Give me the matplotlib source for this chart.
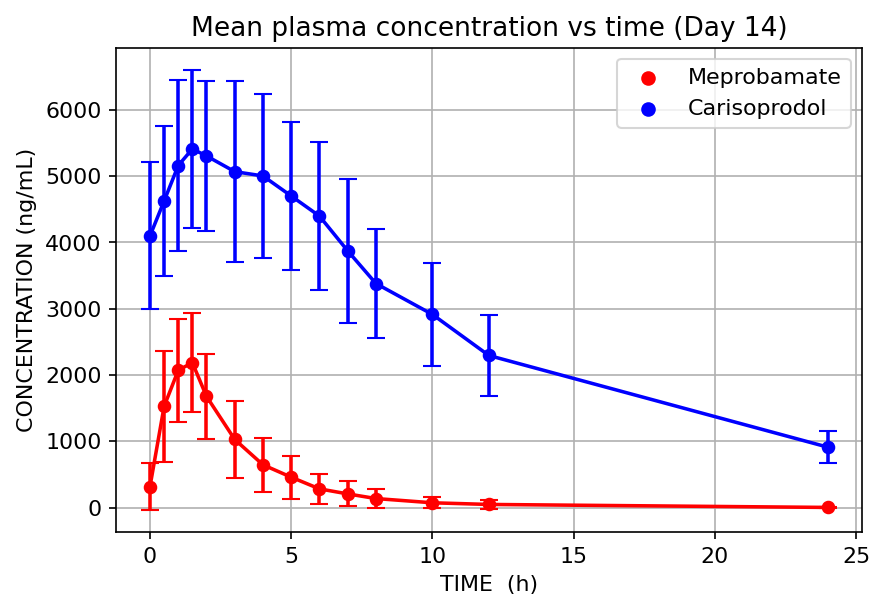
import matplotlib
matplotlib.use("Agg")
import matplotlib.pyplot as plt
import numpy as np

# Sampling times (h)
time_h = [0, 0.5, 1, 1.5, 2, 3, 4, 5, 6, 7, 8, 10, 12, 24]

# Mean plasma concentration (ng/mL) and SD, Day 14
carisoprodol_mean = [4100, 4625, 5160, 5410, 5305, 5068, 5003, 4701, 4398, 3874, 3381, 2915, 2296, 914]
carisoprodol_sd = [1108, 1138, 1287, 1190, 1128, 1365, 1243, 1122, 1115, 1088, 817, 780, 617, 239]

meprobamate_mean = [320, 1529, 2073, 2188, 1680, 1030, 648, 461, 285, 209, 139, 75, 50, 5]
meprobamate_sd = [352, 838, 778, 743, 640, 574, 403, 327, 227, 187, 143, 85, 70, 10]

plt.rcParams["font.size"] = 10.6

fig, ax = plt.subplots(figsize=(5.82, 4.007), dpi=150)
fig.subplots_adjust(left=0.133, right=0.987, bottom=0.115, top=0.920)

ax.errorbar(time_h, meprobamate_mean, yerr=meprobamate_sd, color="red",
            marker="o", markersize=5.5, linewidth=1.7, capsize=4.2)
ax.errorbar(time_h, carisoprodol_mean, yerr=carisoprodol_sd, color="blue",
            marker="o", markersize=5.5, linewidth=1.7, capsize=4.2)
ax.scatter([], [], color="red", label="Meprobamate")
ax.scatter([], [], color="blue", label="Carisoprodol")

ax.set_title("Mean plasma concentration vs time (Day 14)", fontsize=12.7)
ax.set_xlabel("TIME  (h)")
ax.set_ylabel("CONCENTRATION (ng/mL)")
ax.grid(True)
ax.legend(loc="upper right")

plt.savefig("out.png", dpi=150)
